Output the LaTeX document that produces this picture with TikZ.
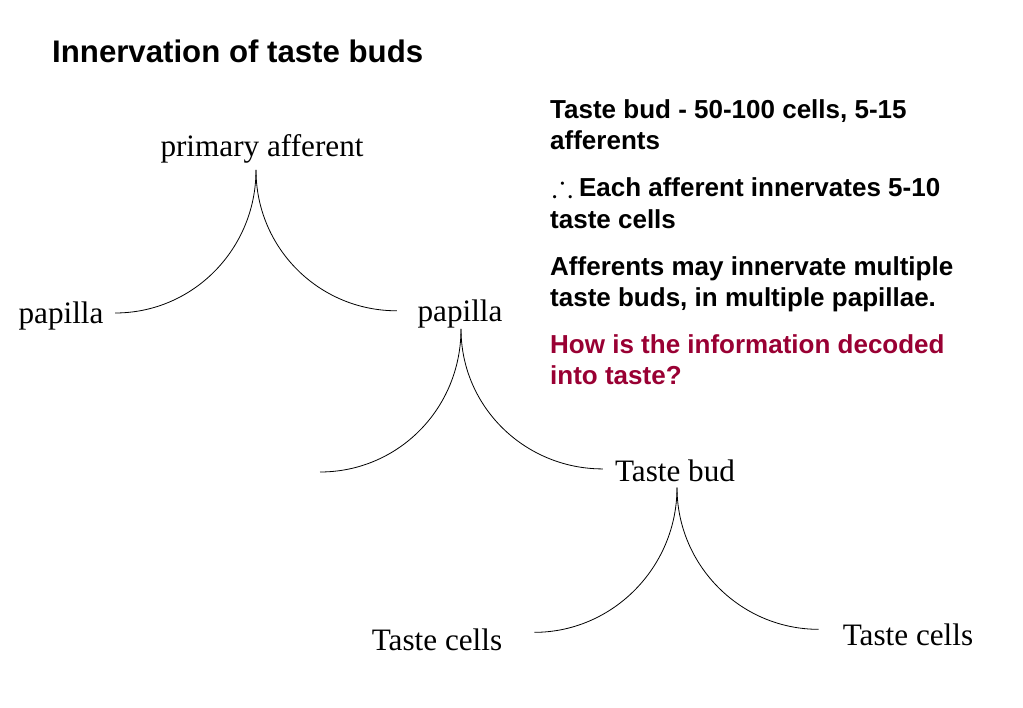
\documentclass[tikz,border=0pt]{standalone}
\usepackage{amsmath,amssymb}
\usepackage{fontspec}
\setmainfont{Liberation Serif}
\setsansfont{Liberation Sans}
\usepackage{xcolor}
\usepackage{tikz}
\definecolor{question}{RGB}{153,0,51}
\tikzset{
  lbl/.style={font=\fontsize{31.2}{36}\selectfont,inner sep=0pt,anchor=base},
  heading/.style={font=\sffamily\bfseries\fontsize{31.2}{36}\selectfont,inner sep=0pt,anchor=base west},
  notes/.style={font=\sffamily\bfseries\fontsize{26}{31.2}\selectfont,align=left,inner sep=0pt,anchor=north west},
  nerve/.style={line width=0.8pt}
}
\begin{document}
\begin{tikzpicture}[x=1pt,y=-1pt]
    \useasboundingbox (0,0) rectangle (1023,708);
    \node[heading] (title) at (52,63) {Innervation of taste buds};
    % the three branchings
    \node[lbl] (aff) at (262,157) {primary afferent};
    \node[lbl] (papL) at (61,324) {papilla};
    \node[lbl] (papR) at (460,322) {papilla};
    \node[lbl] (bud) at (675,482) {Taste bud};
    \node[lbl] (cellL) at (437,650) {Taste cells};
    \node[lbl] (cellR) at (908,645) {Taste cells};
    \coordinate (f1) at ([shift={(-6,6)}]aff.south);
    \coordinate (f2) at ([shift={(1,0)}]papR.south);
    \coordinate (f3) at ([shift={(2,5)}]bud.south);
    \coordinate (papX) at (320,472);
    \draw[nerve] (f1) .. controls +(0,79) and +(78,0) .. ([shift={(11.5,-3.5)}]papL.east);
    \draw[nerve] (f1) .. controls +(0,78) and +(-78,0) .. ([shift={(-20.5,-3.7)}]papR.west);
    \draw[nerve] (f2) .. controls +(0,80) and +(78,0) .. (papX);
    \draw[nerve] (f2) .. controls +(0,78) and +(-78,0) .. ([shift={(-12,-2.4)}]bud.west);
    \draw[nerve] (f3) .. controls +(0,80) and +(78,0) .. ([shift={(32,-7)}]cellL.east);
    \draw[nerve] (f3) .. controls +(0,78) and +(-78,0) .. ([shift={(-24,-5)}]cellR.west);
    % notes on the right
    \node[notes] (n1) at (550,96.5) {\strut Taste bud - 50-100 cells, 5-15\\afferents};
    \node[notes] (n2) at (550,174.8) {\strut\kern2pt\scalebox{1.2}{$\therefore$}\kern6pt Each afferent innervates 5-10\\taste cells};
    \node[notes] (n3) at (550,253.2) {\strut Afferents may innervate multiple\\taste buds, in multiple papillae.};
    \node[notes,text=question] (n4) at (550,331.5) {\strut How is the information decoded\\into taste?};
\end{tikzpicture}
\end{document}
